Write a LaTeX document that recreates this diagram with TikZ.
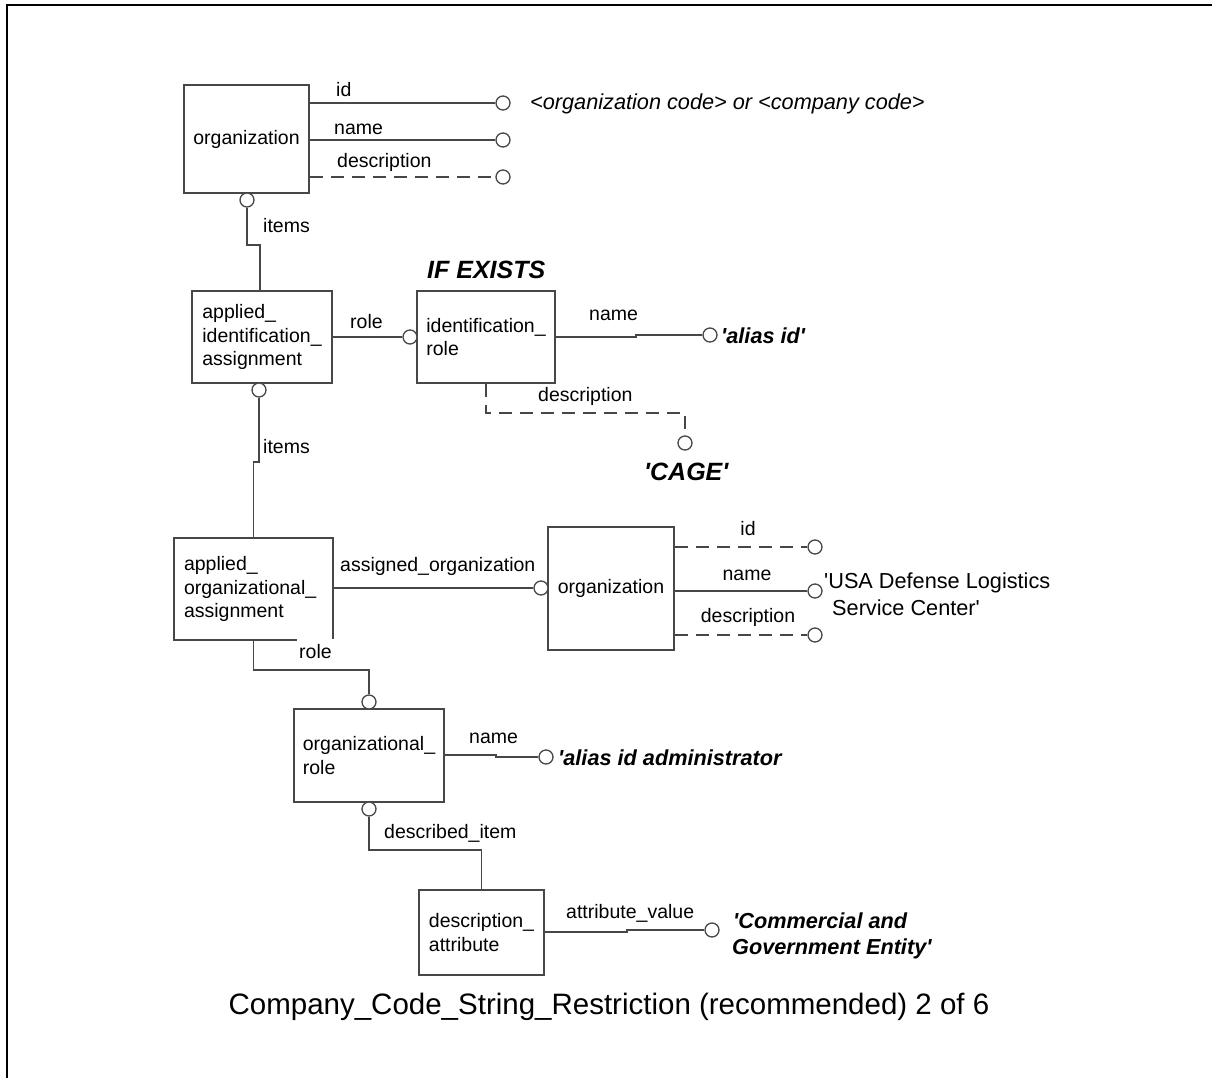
\documentclass[tikz,border=0pt]{standalone}
\usepackage{fontspec}
\setmainfont{Liberation Sans}
\newcommand\fsLabel{\fontsize{19.5pt}{23.5pt}\selectfont}
\newcommand\fsValue{\fontsize{21.7pt}{26pt}\selectfont}
\newcommand\fsBig{\fontsize{25pt}{30pt}\selectfont}
\newcommand\fsCaption{\fontsize{29.5pt}{34pt}\selectfont}
\newcommand\sq{\textquotesingle}
\begin{document}
\begin{tikzpicture}[x=1pt,y=-1pt,
  wire/.style={draw=black!72, line width=1.5pt},
  optwire/.style={wire, dash pattern=on 13pt off 8pt},
  entity/.style={draw=black!72, line width=1.5pt, inner sep=0pt, align=left, font=\fsLabel},
  ring/.style={circle, draw=black!72, line width=1.3pt, fill=white, minimum size=14pt, inner sep=0pt},
  lbl/.style={inner sep=0pt, font=\fsLabel, anchor=base west},
  val/.style={inner sep=0pt, font=\fsValue, anchor=base west},
  bival/.style={val, font=\fsValue\bfseries\itshape},
  bigbi/.style={inner sep=0pt, font=\fsBig\bfseries\itshape, anchor=base west}
]
\useasboundingbox (0,0) rectangle (1212,1078);

% page frame
\draw[line width=2.5pt] (7,1078) -- (7,5) -- (1212,5);

% entities
\node[entity, minimum width=125pt, minimum height=108pt] (b1) at (246.5,139) {organization};
\node[entity, minimum width=140pt, minimum height=92pt] (b2) at (262,337) {applied\_\\identification\_\\assignment};
\node[entity, minimum width=138pt, minimum height=92pt] (b3) at (486,337) {identification\_\\role};
\node[entity, minimum width=159pt, minimum height=102pt, text width=139pt] (b4) at (253.5,589) {applied\_\\organizational\_\\assignment};
\node[entity, minimum width=126pt, minimum height=123pt] (b5) at (611,588.5) {organization};
\node[entity, minimum width=150pt, minimum height=93pt] (b6) at (369,755.5) {organizational\_\\role};
\node[entity, minimum width=125pt, minimum height=85pt] (b7) at (481.5,932.5) {description\_\\attribute};

% rings
\node[ring] (r1id) at (503,103) {};
\node[ring] (r1nm) at (503,140) {};
\node[ring] (r1ds) at (503,177) {};
\node[ring] (r1it) at (247,200) {};
\node[ring] (r2role) at (410,337) {};
\node[ring] (r2it) at (259,390) {};
\node[ring] (r3nm) at (710,335) {};
\node[ring] (r3ds) at (685,443) {};
\node[ring] (r5org) at (541,588) {};
\node[ring] (r5id) at (815,547) {};
\node[ring] (r5nm) at (815,591) {};
\node[ring] (r5ds) at (815,635) {};
\node[ring] (r6top) at (369,702) {};
\node[ring] (r6nm) at (546,757) {};
\node[ring] (r6bot) at (369,809) {};
\node[ring] (r7av) at (712,930) {};

% bend points
\coordinate (j1) at (260,245);
\coordinate (j2) at (636,337);
\coordinate (j3) at (486,413);
\coordinate (j4) at (253.5,462);
\coordinate (j5) at (369,670);
\coordinate (j6) at (496,755);
\coordinate (j7) at (481.5,850);
\coordinate (j8) at (627,932);

% connectors
\draw[wire] (b1.east |- r1id) -- (r1id.west);
\draw[wire] (b1.east |- r1nm) -- (r1nm.west);
\draw[optwire] (b1.east |- r1ds) -- (r1ds.west);
\draw[wire] (r1it.south) |- (j1) -- (j1 |- b2.north);
\draw[wire] (b2.east |- r2role) -- (r2role.west);
\draw[wire] (b3.east |- j2) -- (j2) -- (j2 |- r3nm) -- (r3nm.west);
\draw[optwire] (b3.south) -- (j3) -| (r3ds.north);
\draw[wire] (r2it.south) |- (j4) -- (b4.north);
\draw[wire] (b4.east |- r5org) -- (r5org.west);
\draw[wire] (b4.south) |- (j5) -- (r6top.north);
\draw[optwire] (b5.east |- r5id) -- (r5id.west);
\draw[wire] (b5.east |- r5nm) -- (r5nm.west);
\draw[optwire] (b5.east |- r5ds) -- (r5ds.west);
\draw[wire] (b6.east |- j6) -- (j6) -- (j6 |- r6nm) -- (r6nm.west);
\draw[wire] (r6bot.south) |- (j7) -- (b7.north);
\draw[wire] (b7.east |- j8) -- (j8) -- (j8 |- r7av) -- (r7av.west);

% role labels
\node[lbl] (l1id) at (336,97) {id};
\node[lbl] (l1nm) at (334,135) {name};
\node[lbl] (l1ds) at (337,168) {description};
\node[lbl] (l1it) at (263,233) {items};
\node[lbl] (l2role) at (350,328) {role};
\node[lbl] (l3nm) at (589,320) {name};
\node[lbl] (l3ds) at (538,401) {description};
\node[lbl, fill=white, inner xsep=1pt, inner ysep=2pt] (l2it) at (262,453) {items};
\node[lbl] (l4org) at (340,571) {assigned\_organization};
\node[lbl, fill=white, inner xsep=2pt, inner ysep=5pt] (l4role) at (297,658) {role};
\node[lbl, anchor=base] (l5id) at (748,535) {id};
\node[lbl, anchor=base] (l5nm) at (747,580) {name};
\node[lbl, anchor=base] (l5ds) at (748,622) {description};
\node[lbl] (l6nm) at (469,743) {name};
\node[lbl] (l6it) at (384,838) {described\_item};
\node[lbl] (l7av) at (566,918) {attribute\_value};

% values and notes
\node[val, font=\fsValue\itshape] (v1) at (530,110) {<organization code> or <company code>};
\node[bigbi] (ifex) at (427,278) {IF EXISTS};
\node[bival] (v3nm) at (721,343) {\sq alias id\sq};
\node[bigbi] (v3ds) at (644,480) {\sq CAGE\sq};
\node[val] (v5a) at (824,588) {\sq USA Defense Logistics};
\node[val] (v5b) at (832,615) {Service Center\sq};
\node[bival] (v6) at (558,765) {\sq alias id administrator};
\node[bival] (v7a) at (733,928) {\sq Commercial and};
\node[bival] (v7b) at (732,954) {Government Entity\sq};

% caption
\node[inner sep=0pt, font=\fsCaption, anchor=base] (cap) at (609,1014) {Company\_Code\_String\_Restriction (recommended) 2 of 6};
\end{tikzpicture}
\end{document}
